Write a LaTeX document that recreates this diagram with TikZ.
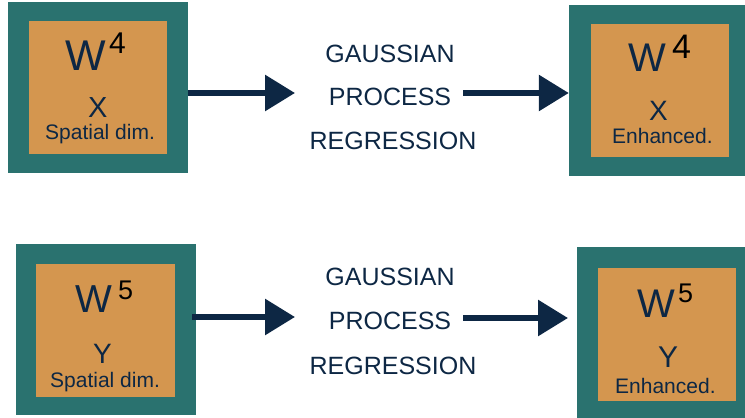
\documentclass[tikz,border=0pt]{standalone}
\usepackage{fontspec}
\setmainfont{Liberation Sans}
\usetikzlibrary{arrows.meta}
\definecolor{frameteal}{HTML}{2A726F}
\definecolor{cellorange}{HTML}{D4964F}
\definecolor{inknavy}{HTML}{0D2744}
\tikzset{
  outerbox/.style={fill=frameteal, draw=none, inner sep=0pt},
  innerbox/.style={fill=cellorange, draw=none, inner sep=0pt},
  txt/.style={inner sep=0pt, anchor=base west, text=inknavy},
  sup/.style={inner sep=0pt, anchor=base west, text=black},
  midtxt/.style={inner sep=0pt, anchor=base, text=inknavy, font=\fontsize{25}{25}\selectfont},
  flow/.style={draw=inknavy, line width=6pt, -{Triangle[length=30pt,width=35pt]}},
}
\newcommand{\fs}[1]{\fontsize{#1}{#1}\selectfont}
\begin{document}
\begin{tikzpicture}[x=1pt,y=-1pt]
\useasboundingbox (0,0) rectangle (745,418);
\clip (0,0) rectangle (745,418);

% top-left block
\node[outerbox, minimum width=180pt, minimum height=171pt] (b1) at (98,87.5) {};
\node[innerbox, minimum width=138pt, minimum height=133pt] (i1) at (98,87.5) {};
\node[txt, font=\fs{43}] (w1) at (65,70) {W};
\node[sup, font=\fs{30}] (s1) at (109,53) {4};
\node[txt, font=\fs{29}] (x1) at (88,117) {X};
\node[txt, font=\fs{21}] (l1) at (45,139) {Spatial dim.};

% top-right block
\node[outerbox, minimum width=182pt, minimum height=171pt] (b2) at (660,90.5) {};
\node[innerbox, minimum width=138pt, minimum height=133pt] (i2) at (660,90.5) {};
\node[txt, font=\fs{40}] (w2) at (628,71) {W};
\node[sup, font=\fs{34}] (s2) at (672,58) {4};
\node[txt, font=\fs{28}] (x2) at (649,120) {X};
\node[txt, font=\fs{21}] (l2) at (612,143) {Enhanced.};

% bottom-left block
\node[outerbox, minimum width=180pt, minimum height=171pt] (b3) at (106,329.5) {};
\node[innerbox, minimum width=139pt, minimum height=133pt] (i3) at (105.5,330.5) {};
\node[txt, font=\fs{39}] (w3) at (75,312) {W};
\node[sup, font=\fs{27}] (s3) at (118,299) {5};
\node[txt, font=\fs{28}] (y3) at (93,363) {Y};
\node[txt, font=\fs{21}] (l3) at (50,387) {Spatial dim.};

% bottom-right block
\node[outerbox, minimum width=180pt, minimum height=175pt] (b4) at (667,334.5) {};
\node[innerbox, minimum width=138pt, minimum height=133pt] (i4) at (667,334.5) {};
\node[txt, font=\fs{40}] (w4) at (637,317) {W};
\node[sup, font=\fs{27}] (s4) at (678,302) {5};
\node[txt, font=\fs{30}] (y4) at (658,367) {Y};
\node[txt, font=\fs{21}] (l4) at (615,393) {Enhanced.};

% method labels
\node[midtxt] (g1) at (390,62) {GAUSSIAN};
\node[midtxt] (p1) at (390,105) {PROCESS};
\node[midtxt] (r1) at (393,149) {REGRESSION};
\node[midtxt] (g2) at (390,285) {GAUSSIAN};
\node[midtxt] (p2) at (390,329) {PROCESS};
\node[midtxt] (r2) at (393,374) {REGRESSION};

% arrow end points beside the labels
\coordinate (t1) at (295,93);
\coordinate (u1) at (463,93);
\coordinate (t2) at (295,317);
\coordinate (u2) at (463,318);
\coordinate (v2) at (568,318);

\draw[flow] (b1.east |- t1) -- (t1);
\draw[flow] (u1) -- (b2.west |- u1);
\draw[flow] ([xshift=-4pt]b3.east |- t2) -- (t2);
\draw[flow] (u2) -- (v2);
\end{tikzpicture}
\end{document}
